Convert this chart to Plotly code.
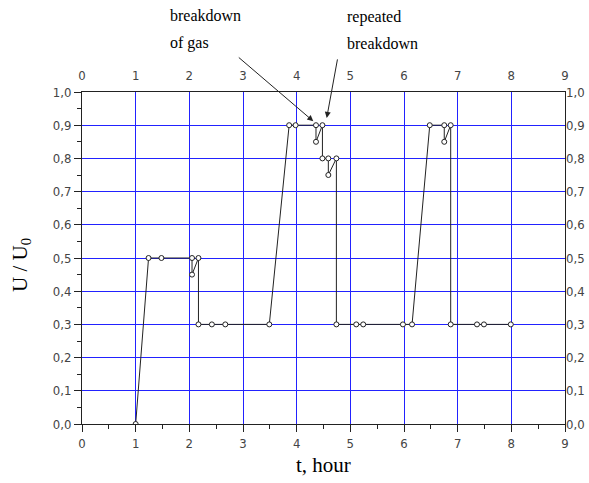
import plotly.graph_objects as go

# data (t in hours, U/U0)
t = [1.0, 1.24, 1.48, 2.05, 2.05, 2.17, 2.17, 2.42, 2.67, 3.49,
     3.86, 3.98, 4.36, 4.36, 4.48, 4.48, 4.59, 4.59, 4.74, 4.74,
     5.11, 5.24, 5.98, 6.15, 6.48, 6.75, 6.75, 6.87, 6.87, 7.36,
     7.49, 7.99]
u = [0.0, 0.5, 0.5, 0.5, 0.45, 0.5, 0.3, 0.3, 0.3, 0.3,
     0.9, 0.9, 0.9, 0.85, 0.9, 0.8, 0.8, 0.75, 0.8, 0.3,
     0.3, 0.3, 0.3, 0.3, 0.9, 0.9, 0.85, 0.9, 0.3, 0.3,
     0.3, 0.3]

x_range = [0, 9]
y_range = [0, 1]
arrow1_target = (4.31, 0.912)
arrow2_target = (4.56, 0.922)

W, H = 589, 483
L, R, T, B = 82, 24, 92, 59
PW, PH = W - L - R, H - T - B

def px(xp):
    return (xp - L) / PW

def py(yp):
    return (H - B - yp) / PH

tick_font = dict(family="Liberation Sans Narrow, DejaVu Sans Condensed, Arial, sans-serif",
                 size=13, color="#444444")
serif = "Liberation Serif, Times New Roman, serif"
grid_color = "#2222ff"

fig = go.Figure()
fig.add_trace(go.Scatter(
    x=t, y=u, mode="lines+markers",
    line=dict(color="#222222", width=1),
    marker=dict(symbol="circle", size=5, color="white",
                line=dict(color="#222222", width=1)),
    showlegend=False, hoverinfo="skip"))
# invisible helper for secondary (top/right) axes
fig.add_trace(go.Scatter(
    x=t, y=u, xaxis="x2", yaxis="y2", mode="markers",
    marker=dict(opacity=0), showlegend=False, hoverinfo="skip"))

fig.update_layout(
    width=W, height=H,
    margin=dict(l=L, r=R, t=T, b=B, autoexpand=False),
    paper_bgcolor="white", plot_bgcolor="white",
    separators=",.",
    xaxis=dict(range=x_range, tickmode="linear", tick0=0, dtick=1,
               showgrid=True, gridcolor=grid_color, gridwidth=1,
               zeroline=False, showline=True, linecolor="#222222", linewidth=1,
               mirror=True, ticks="outside", ticklen=7, tickcolor="#222222",
               tickfont=tick_font,
               minor=dict(dtick=0.5, ticks="outside", ticklen=4, tickcolor="#222222",
                          showgrid=False)),
    yaxis=dict(range=y_range, tickmode="linear", tick0=0, dtick=0.1, tickformat=".1f",
               showgrid=True, gridcolor=grid_color, gridwidth=1,
               zeroline=False, showline=True, linecolor="#222222", linewidth=1,
               mirror=True, ticks="outside", ticklen=7, tickcolor="#222222",
               tickfont=tick_font,
               minor=dict(dtick=0.05, ticks="outside", ticklen=4, tickcolor="#222222",
                          showgrid=False)),
    xaxis2=dict(range=x_range, overlaying="x", side="top", anchor="y",
                tickmode="linear", tick0=0, dtick=1, showgrid=False, zeroline=False,
                showline=False, ticks="outside", ticklen=6,
                tickcolor="rgba(0,0,0,0)", tickfont=tick_font),
    yaxis2=dict(range=y_range, overlaying="y", side="right", anchor="x",
                tickmode="linear", tick0=0, dtick=0.1, tickformat=".1f",
                showgrid=False, zeroline=False, showline=False, ticks="",
                tickfont=tick_font),
)

ann_font = dict(family=serif, size=16, color="black")
fig.add_annotation(xref="paper", yref="paper", x=px(168), y=py(15), text="breakdown",
                   showarrow=False, xanchor="left", yanchor="middle", font=ann_font)
fig.add_annotation(xref="paper", yref="paper", x=px(168), y=py(43), text="of gas",
                   showarrow=False, xanchor="left", yanchor="middle", font=ann_font)
fig.add_annotation(xref="paper", yref="paper", x=px(345), y=py(17), text="repeated",
                   showarrow=False, xanchor="left", yanchor="middle", font=ann_font)
fig.add_annotation(xref="paper", yref="paper", x=px(345), y=py(44), text="breakdown",
                   showarrow=False, xanchor="left", yanchor="middle", font=ann_font)

fig.add_annotation(x=arrow1_target[0], y=arrow1_target[1], xref="x", yref="y",
                   text="", showarrow=True, arrowhead=2, arrowsize=1.2, arrowwidth=1,
                   arrowcolor="#222222", ax=-76, ay=-65)
fig.add_annotation(x=arrow2_target[0], y=arrow2_target[1], xref="x", yref="y",
                   text="", showarrow=True, arrowhead=2, arrowsize=1.2, arrowwidth=1,
                   arrowcolor="#222222", ax=11, ay=-60)

fig.add_annotation(xref="paper", yref="paper", x=px(323), y=py(465), text="t, hour",
                   showarrow=False, xanchor="center", yanchor="middle",
                   font=dict(family=serif, size=21, color="black"))
fig.add_annotation(xref="paper", yref="paper", x=px(21), y=py(265),
                   text="U / U<sub>0</sub>", textangle=-90,
                   showarrow=False, xanchor="center", yanchor="middle",
                   font=dict(family=serif, size=21, color="black"))

fig.write_html("out.html")
